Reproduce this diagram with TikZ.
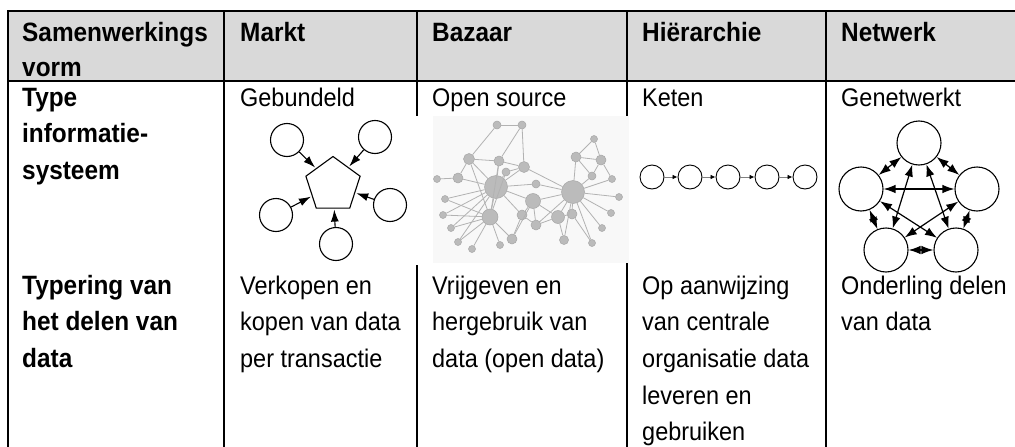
\documentclass[tikz,border=0pt]{standalone}
\usepackage{fontspec}
\setmainfont{Liberation Sans}[FakeStretch=0.92]
\usetikzlibrary{shapes.geometric,arrows.meta}
\definecolor{hdrgray}{HTML}{D9D9D9}
\definecolor{bzfill}{HTML}{BBBBBB}
\definecolor{bzdraw}{HTML}{A6A6A6}
\definecolor{bzedge}{HTML}{B2B2B2}
\definecolor{bzbg}{HTML}{F8F8F8}
\newcommand{\firststrut}{\rule{0pt}{24pt}}
\begin{document}
\begin{tikzpicture}[x=1pt,y=-1pt,
  txt/.style={anchor=north west, inner sep=0pt, align=left, font=\fontsize{25.5}{36.6}\selectfont},
  btxt/.style={txt, font=\fontsize{26.5}{36.6}\selectfont\bfseries},
  htxt/.style={txt, font=\fontsize{26.5}{35}\selectfont\bfseries},
  rule/.style={line width=1.7pt},
  thickrule/.style={line width=2.4pt},
  circ/.style={circle, draw, inner sep=0pt, line width=1.1pt, minimum size=#1},
  marr/.style={-{Latex[length=12pt,width=8pt]}, line width=1.1pt, shorten >=1pt},
  narr/.style={{Latex[length=12pt,width=8.5pt]}-{Latex[length=12pt,width=8.5pt]}, line width=1.2pt},
  karr/.style={-{Latex[length=5pt,width=4.5pt,color=black]}, draw=gray, line width=0.8pt},
  bz/.style={circle, fill=bzfill, draw=bzdraw, line width=0.5pt, inner sep=0pt, minimum size=#1},
  bze/.style={draw=bzedge, line width=0.8pt}
]
\useasboundingbox (0,0) rectangle (1015,447);

% header background
\fill[hdrgray] (8,11) rectangle (1015,81);

% column rules
\draw[rule] (224,11) -- (224,447);
\draw[rule] (417,11) -- (417,447);
\draw[rule] (627,11) -- (627,447);
\draw[rule] (826,11) -- (826,447);

% outer frame
\draw[thickrule] (8,447) -- (8,11) -- (1016,11);
\draw[thickrule] (8,81) -- (1016,81);

% Bazaar picture background (covers rules)
\fill[white] (409,116) rectangle (433,265);
\fill[bzbg] (433,116) rectangle (629,263);

% header texts (baseline = y + 24)
\node[htxt] (h1) at (22,17) {\firststrut Samenwerkings\\vorm};
\node[htxt] (h2) at (240,17) {\firststrut Markt};
\node[htxt] (h3) at (432,17) {\firststrut Bazaar};
\node[htxt] (h4) at (642,17) {\firststrut Hiërarchie};
\node[htxt] (h5) at (841,17) {\firststrut Netwerk};

% row 2 texts
\node[btxt] (r1) at (22,82) {\firststrut Type\\informatie-\\systeem};
\node[txt] (r2) at (240,82) {\firststrut Gebundeld};
\node[txt] (r3) at (432,82) {\firststrut Open source};
\node[txt] (r4) at (642,82) {\firststrut Keten};
\node[txt] (r5) at (841,82) {\firststrut Genetwerkt};

% row 3 texts
\node[btxt] (s1) at (22,270) {\firststrut Typering van\\het delen van\\data};
\node[txt] (s2) at (240,270) {\firststrut Verkopen en\\kopen van data\\per transactie};
\node[txt] (s3) at (432,270) {\firststrut Vrijgeven en\\hergebruik van\\data (open data)};
\node[txt] (s4) at (642,270) {\firststrut Op aanwijzing\\van centrale\\organisatie data\\leveren en\\gebruiken};
\node[txt] (s5) at (841,270) {\firststrut Onderling delen\\van data};

% Markt: gebundeld
\node[regular polygon, regular polygon sides=5, draw, line width=1.1pt, inner sep=0pt, minimum size=57pt] (pent) at (333,185) {};
\node[circ=33pt] (m1) at (287,140) {};
\node[circ=33pt] (m2) at (375,137) {};
\node[circ=33pt] (m3) at (276,215) {};
\node[circ=33pt] (m4) at (390,205) {};
\node[circ=33pt] (m5) at (336,244) {};
\foreach \c in {m1,m2,m3,m4,m5} \draw[marr] (\c) -- (pent);

% Bazaar: open source network
\foreach \n/\x/\y/\s in {
 1/497/125/8, 2/522/125/8, 3/469/159/11, 4/499/161/10, 5/524/167/11, 6/506/172/8,
 7/437/179/7, 8/458/178/10, 9/496/187/23, 10/536/184/8, 11/533/201/15, 12/573/192/23,
 13/594/139/7, 14/576/157/10, 15/601/160/10, 16/592/176/8, 17/612/179/7, 18/619/197/7,
 19/445/199/7, 20/443/215/7, 21/490/217/16, 22/522/215/10, 23/558/217/13, 24/572/214/10,
 25/536/225/10, 26/451/228/7, 27/500/245/7, 28/458/242/7, 29/472/249/7, 30/512/239/10,
 31/564/240/9, 32/592/243/7, 33/602/228/7, 34/611/213/7}
 \node[bz=\s pt] (b\n) at (\x,\y) {};
\foreach \a/\b in {1/2,1/3,2/4,2/5,3/4,3/8,3/9,3/21,4/9,4/5,5/6,5/9,5/12,6/9,7/8,8/9,
 9/19,9/20,9/21,9/22,9/26,9/11,9/28,9/10,10/12,11/12,11/22,11/25,11/23,12/14,12/16,12/17,
 12/18,12/23,12/24,12/31,12/32,12/33,12/34,12/25,13/14,13/15,14/15,14/16,15/16,15/17,
 19/21,20/21,21/26,21/28,21/29,21/27,21/30,22/30,22/25,23/31,23/24,24/32,25/23,30/11,4/21,6/21}
 \draw[bze] (b\a) -- (b\b);

% Hierarchie: keten
\node[circ=24pt, line width=0.9pt] (k1) at (652,177) {};
\node[circ=24pt, line width=0.9pt] (k2) at (690,177) {};
\node[circ=24pt, line width=0.9pt] (k3) at (728,177) {};
\node[circ=24pt, line width=0.9pt] (k4) at (767,177) {};
\node[circ=24pt, line width=0.9pt] (k5) at (805,177) {};
\draw[karr] (k1) -- (k2);
\draw[karr] (k2) -- (k3);
\draw[karr] (k3) -- (k4);
\draw[karr] (k4) -- (k5);

% Netwerk: genetwerkt
\node[circ=44pt] (n1) at (919,143) {};
\node[circ=44pt] (n2) at (861,189) {};
\node[circ=44pt] (n3) at (977,189) {};
\node[circ=44pt] (n4) at (886,250) {};
\node[circ=44pt] (n5) at (956,250) {};
\foreach \a/\b in {n1/n2,n1/n3,n2/n4,n3/n5,n4/n5,n1/n4,n1/n5,n2/n3,n2/n5,n3/n4}
 \draw[narr] (\a) -- (\b);
\end{tikzpicture}
\end{document}
